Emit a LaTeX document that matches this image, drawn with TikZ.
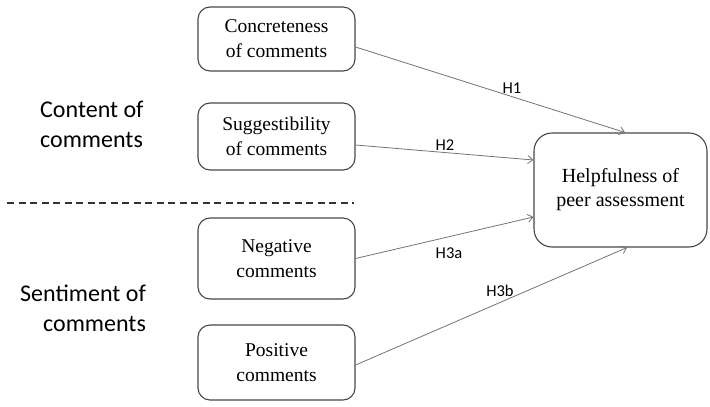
\documentclass[tikz,border=0pt]{standalone}
\usepackage{fontspec}
\setmainfont{Liberation Serif}
\newfontfamily\calfont{Carlito}
\usetikzlibrary{arrows.meta,calc}
\begin{document}
\begin{tikzpicture}[x=1pt,y=-1pt,
  box/.style={draw=black!72, line width=1.1pt, rounded corners=12pt, align=center,
    font=\fontsize{19.5}{25}\selectfont, inner sep=0pt},
  arr/.style={draw=black!55, line width=0.8pt, -{Straight Barb[length=5pt,width=8pt]}},
  hlab/.style={font=\calfont\fontsize{16.5}{18}\selectfont, inner sep=0pt},
  grp/.style={font=\calfont\fontsize{24}{30}\selectfont, inner sep=0pt}]
\useasboundingbox (0,0) rectangle (710,407);
\node[box, minimum width=157pt, minimum height=64pt] (c1) at (276.5,39) {Concreteness\\of comments};
\node[box, minimum width=157pt, minimum height=67pt] (c2) at (276.5,136.5) {Suggestibility\\of comments};
\node[box, minimum width=157pt, minimum height=81pt] (c3) at (276.5,258.5) {Negative\\comments};
\node[box, minimum width=157pt, minimum height=75pt] (c4) at (276.5,362.5) {Positive\\comments};
\node[box, rounded corners=18pt, minimum width=173pt, minimum height=114pt,
  font=\fontsize{20}{24}\selectfont] (h) at (620.5,190) {Helpfulness of\\peer assessment};
\node[grp, anchor=west, align=left] (g1) at (40,124) {Content of\\comments};
\node[grp, anchor=west, align=right] (g2) at (20,308) {Sentiment of\\comments};
\coordinate (d1) at (7,203);
\coordinate (d2) at (354,203);
\draw[black!80, line width=1.2pt, dash pattern=on 7pt off 4.5pt] (d1) -- (d2);
\draw[arr] ($(c1.east)+(0,8)$) -- ($(h.north)+(4.5,0)$);
\draw[arr] ($(c2.east)+(0,8.5)$) -- ($(h.west)+(0,-30)$);
\draw[arr] (c3.east) -- ($(h.west)+(0,27)$);
\draw[arr] ($(c4.east)+(0,2.5)$) -- ($(h.south)+(6.5,0)$);
\node[hlab] (l1) at (512,88) {H1};
\node[hlab] (l2) at (445,145) {H2};
\node[hlab] (l3) at (449,253) {H3a};
\node[hlab] (l4) at (500,291) {H3b};
\end{tikzpicture}
\end{document}
